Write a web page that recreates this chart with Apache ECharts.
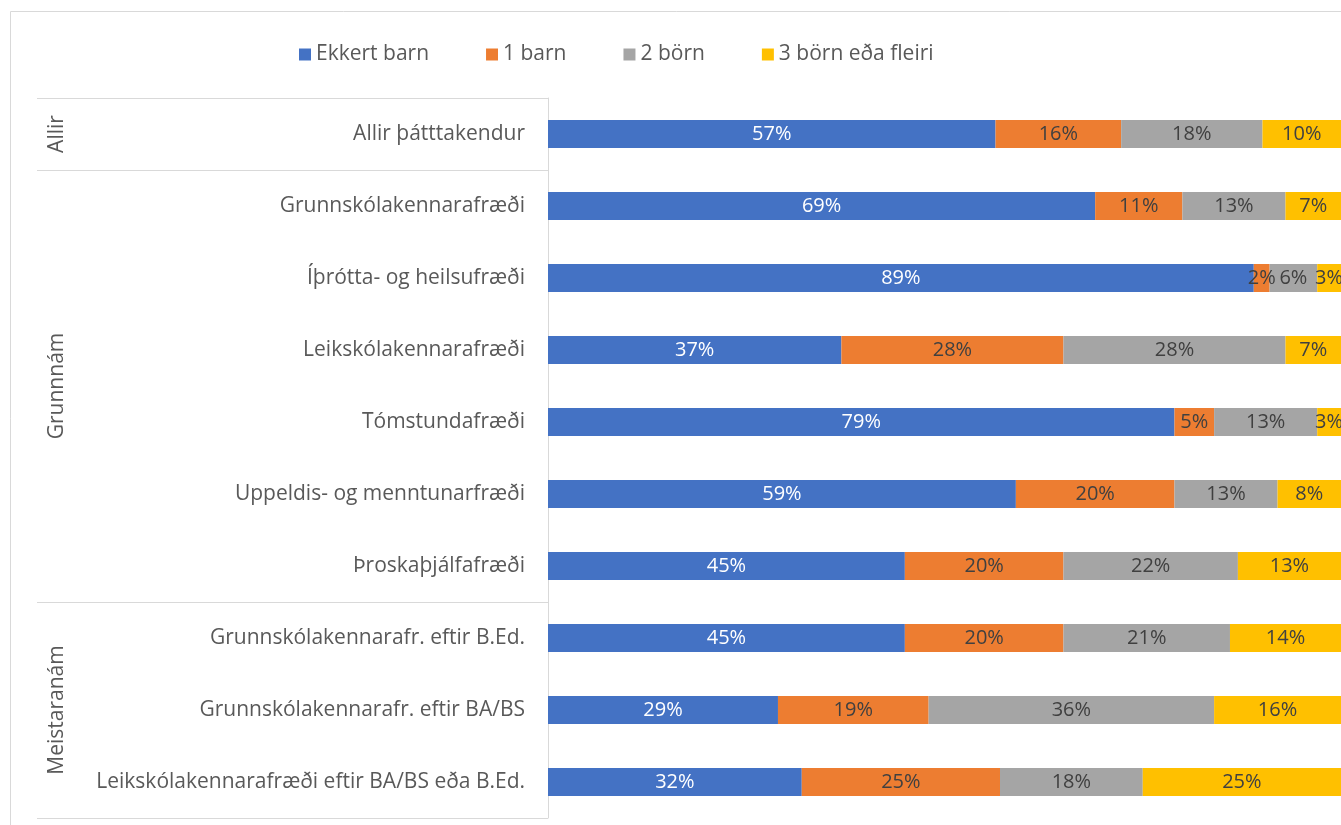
<!DOCTYPE html>
<html>
	<head>
		<meta charset="UTF-8">
		<title>Fjöldi barna</title>
		<script src="https://cdn.jsdelivr.net/npm/echarts@6/dist/echarts.min.js"></script>
		<style>
			html, body { margin: 0; padding: 0; background: #fff; }
			#chart { width: 1341px; height: 825px; }
		</style>
	</head>
	<body>
		<div id="chart"></div>
		<script>
			// flokkar (efst til neðst)
			var categories = [
				'Allir þátttakendur',
				'Grunnskólakennarafræði',
				'Íþrótta- og heilsufræði',
				'Leikskólakennarafræði',
				'Tómstundafræði',
				'Uppeldis- og menntunarfræði',
				'Þroskaþjálfafræði',
				'Grunnskólakennarafr. eftir B.Ed.',
				'Grunnskólakennarafr. eftir BA/BS',
				'Leikskólakennarafræði eftir BA/BS eða B.Ed.'
			];

			// hópar á ytra ási: nafn, fyrsti og síðasti flokkur
			var groupNames = ['Allir', 'Grunnnám', 'Meistaranám'];
			var groupFrom = [0, 1, 7];
			var groupTo = [0, 6, 9];

			var seriesNames = ['Ekkert barn', '1 barn', '2 börn', '3 börn eða fleiri'];
			var ekkertBarn = [57, 69, 89, 37, 79, 59, 45, 45, 29, 32];
			var eittBarn = [16, 11, 2, 28, 5, 20, 20, 20, 19, 25];
			var tvoBorn = [18, 13, 6, 28, 13, 13, 22, 21, 36, 18];
			var thrjuBorn = [10, 7, 3, 7, 3, 8, 13, 14, 16, 25];

			var colors = ['#4472C4', '#ED7D31', '#A5A5A5', '#FFC000'];
			var labelColors = ['#ffffff', '#404040', '#404040', '#404040'];
			var font = '"Open Sans", Lato, sans-serif';

			var allData = [ekkertBarn, eittBarn, tvoBorn, thrjuBorn];

			// 100% staflað: hver röð deilt með summu sinni
			var rowSum = categories.map(function(c, i) {
				return allData.reduce(function(s, arr) { return s + arr[i]; }, 0);
			});

			var series = allData.map(function(arr, k) {
				return {
					name: seriesNames[k],
					type: 'bar',
					stack: 'total',
					barWidth: 28,
					itemStyle: { color: colors[k] },
					label: {
						show: true,
						position: 'inside',
						color: labelColors[k],
						fontSize: 20,
						fontFamily: font,
						formatter: function(p) { return arr[p.dataIndex] + '%'; }
					},
					data: arr.map(function(v, i) { return v / rowSum[i] * 100; })
				};
			});

			var chart = echarts.init(document.getElementById('chart'));

			var option = {
				animation: false,
				textStyle: { fontFamily: font },
				legend: {
					data: seriesNames,
					left: 294,
					top: 39,
					itemWidth: 12,
					itemHeight: 12,
					itemGap: 57,
					icon: 'rect',
					textStyle: { color: '#595959', fontSize: 21, fontFamily: font }
				},
				grid: {
					left: 548,
					top: 98,
					width: 800,
					height: 720,
					containLabel: false
				},
				xAxis: {
					type: 'value',
					min: 0,
					max: 100,
					show: false
				},
				yAxis: {
					type: 'category',
					inverse: true,
					data: categories,
					axisLine: { show: true, lineStyle: { color: '#d9d9d9', width: 1 } },
					axisTick: { show: false },
					axisLabel: { color: '#595959', fontSize: 21, margin: 23, fontFamily: font }
				},
				series: series
			};

			chart.setOption(option);

			// línur og heiti hópa reiknuð út frá ásnum
			var c0 = chart.convertToPixel({ yAxisIndex: 0 }, categories[0]);
			var c1 = chart.convertToPixel({ yAxisIndex: 0 }, categories[1]);
			var band = c1 - c0;
			var axisX = chart.convertToPixel({ xAxisIndex: 0 }, 0);
			var lineLeft = 37;

			var graphics = [{
				type: 'rect',
				shape: { x: 10.5, y: 11.5, width: 1340, height: 830 },
				style: { fill: 'none', stroke: '#d9d9d9', lineWidth: 1 },
				silent: true
			}];

			groupNames.forEach(function(name, g) {
				var top = chart.convertToPixel({ yAxisIndex: 0 }, categories[groupFrom[g]]) - band / 2;
				var bottom = chart.convertToPixel({ yAxisIndex: 0 }, categories[groupTo[g]]) + band / 2;
				graphics.push({
					type: 'line',
					shape: { x1: lineLeft, y1: Math.round(top) + 0.5, x2: axisX, y2: Math.round(top) + 0.5 },
					style: { stroke: '#d9d9d9', lineWidth: 1 },
					silent: true
				});
				if (g === groupNames.length - 1) {
					graphics.push({
						type: 'line',
						shape: { x1: lineLeft, y1: Math.round(bottom) + 0.5, x2: axisX, y2: Math.round(bottom) + 0.5 },
						style: { stroke: '#d9d9d9', lineWidth: 1 },
						silent: true
					});
				}
				graphics.push({
					type: 'text',
					x: 57,
					y: (top + bottom) / 2,
					rotation: Math.PI / 2,
					style: {
						text: name,
						fill: '#595959',
						font: '21px ' + font,
						align: 'center',
						verticalAlign: 'middle'
					},
					silent: true
				});
			});

			chart.setOption({ graphic: graphics });
		</script>
	</body>
</html>
